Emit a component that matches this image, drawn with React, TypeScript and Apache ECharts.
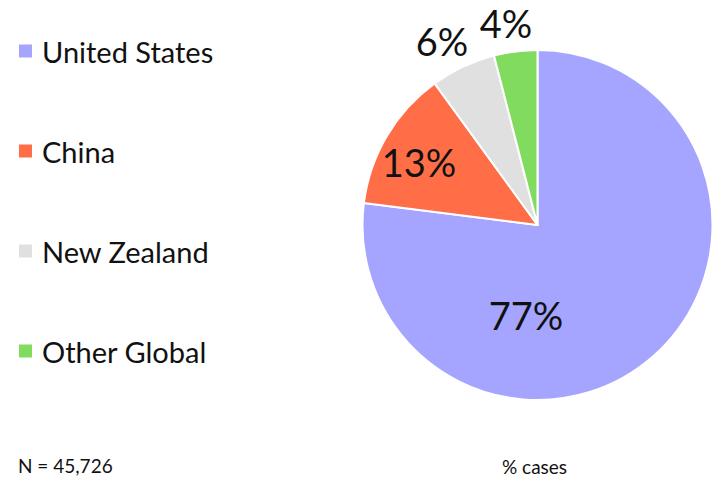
import React, { useEffect, useRef } from "react";
import * as echarts from "echarts";

const categories = ["United States", "China", "New Zealand", "Other Global"];
const shares = [77, 13, 6, 4];
const colors = ["#a5a5ff", "#ff6e46", "#e0e0e0", "#80db5e"];
const sampleNote = "N = 45,726";
const axisNote = "% cases";
// label anchor points (style only)
const labelPos: [number, number][] = [
  [526, 315],
  [419, 162],
  [442, 41],
  [506, 23],
];

const FONT = "Lato, 'Noto Sans', sans-serif";

export default function App() {
  const ref = useRef<HTMLDivElement>(null);
  useEffect(() => {
    if (!ref.current) return;
    const chart = echarts.init(ref.current, undefined, { renderer: "svg" });
    chart.setOption({
      animation: false,
      backgroundColor: "#ffffff",
      legend: {
        orient: "vertical",
        left: 17,
        top: 36,
        padding: 0,
        itemWidth: 15,
        itemHeight: 15,
        itemGap: 70,
        icon: "rect",
        data: categories,
        textStyle: {
          fontFamily: FONT,
          fontSize: 29,
          lineHeight: 30,
          color: "#111",
          padding: [0, 0, 0, 4],
        },
      },
      graphic: [
        {
          type: "text",
          left: 18,
          top: 456,
          style: { text: sampleNote, fontFamily: FONT, fontSize: 19, fill: "#111" },
        },
        {
          type: "text",
          left: 502,
          top: 457,
          style: { text: axisNote, fontFamily: FONT, fontSize: 19, fill: "#111" },
        },
      ],
      series: [
        {
          type: "pie",
          center: [537.5, 225],
          radius: 175,
          startAngle: 90,
          clockwise: true,
          avoidLabelOverlap: false,
          itemStyle: { borderColor: "#ffffff", borderWidth: 2 },
          label: {
            show: true,
            position: "inside",
            formatter: "{c}%",
            fontFamily: FONT,
            fontSize: 38,
            color: "#111",
          },
          labelLine: { show: false },
          labelLayout: (p: any) => {
            const pos = labelPos[p.dataIndex];
            return { x: pos[0], y: pos[1], align: "center", verticalAlign: "middle" };
          },
          emphasis: { disabled: true },
          data: categories.map((name, i) => ({
            name,
            value: shares[i],
            itemStyle: { color: colors[i] },
          })),
        },
      ],
    });
    return () => chart.dispose();
  }, []);
  return (
    <div
      ref={ref}
      style={{ position: "fixed", left: 0, top: 0, width: 713, height: 479 }}
    />
  );
}
